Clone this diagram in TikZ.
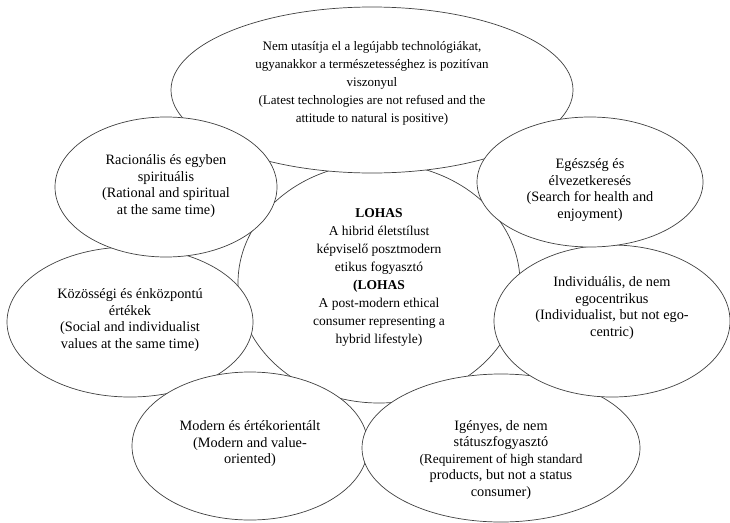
\documentclass[tikz,border=0pt]{standalone}
\usepackage{fontspec}
\setmainfont{Liberation Serif}
\usetikzlibrary{shapes.geometric}
\tikzset{
  bubble/.style={ellipse, draw=black!75, fill=white, line width=0.7pt, inner sep=0pt},
  txt/.style={align=center, inner sep=0pt, font=\fontsize{14.3}{16.5}\selectfont},
}
\newcommand{\smalltxt}{\fontsize{13.3}{15}\selectfont}
\begin{document}
\begin{tikzpicture}[x=1pt,y=-1pt]
    \useasboundingbox (0,0) rectangle (730,522);
    % ellipses, back to front
    \node[bubble, minimum width=282pt, minimum height=240pt] (hub) at (379, 283) {};
    \node[bubble, minimum width=402pt, minimum height=166pt] (tech) at (372, 90) {};
    \node[bubble, minimum width=246pt, minimum height=150pt] (social) at (130, 322) {};
    \node[bubble, minimum width=236pt, minimum height=148pt] (modern) at (250, 446) {};
    \node[bubble, minimum width=278pt, minimum height=148pt] (demand) at (501, 448) {};
    \node[bubble, minimum width=236pt, minimum height=152pt] (indiv) at (612, 321) {};
    \node[bubble, minimum width=226pt, minimum height=130pt] (health) at (590, 182) {};
    \node[bubble, minimum width=222pt, minimum height=140pt] (ratio) at (166, 187) {};
    % texts
    \node[txt, font=\fontsize{13.5}{18}\selectfont] (hubText) at (379, 277)
        {\textbf{LOHAS}\\A hibrid életstílust\\képviselő posztmodern\\etikus fogyasztó\\\textbf{(LOHAS}\\A post-modern ethical\\consumer representing a\\hybrid lifestyle)};
    \node[txt, font=\fontsize{13}{18}\selectfont] (techText) at (372, 83)
        {Nem utasítja el a legújabb technológiákat,\\ugyanakkor a természetességhez is pozitívan\\viszonyul\\(Latest technologies are not refused and the\\attitude to natural is positive)};
    \node[txt] (socialText) at (130, 320)
        {Közösségi és énközpontú\\értékek\\(Social and individualist\\values at the same time)};
    \node[txt] (modernText) at (250, 444)
        {Modern és értékorientált\\(Modern and value-\\oriented)};
    \node[txt] (demandText) at (501, 460)
        {Igényes, de nem\\státuszfogyasztó\\\smalltxt(Requirement of high standard\\products, but not a status\\consumer)};
    \node[txt] (indivText) at (612, 308)
        {Individuális, de nem\\egocentrikus\\(Individualist, but not ego-\\centric)};
    \node[txt] (healthText) at (590, 190)
        {Egészség és\\élvezetkeresés\\(Search for health and\\enjoyment)};
    \node[txt] (ratioText) at (166, 186)
        {Racionális és egyben\\spirituális\\(Rational and spiritual\\at the same time)};
\end{tikzpicture}
\end{document}
